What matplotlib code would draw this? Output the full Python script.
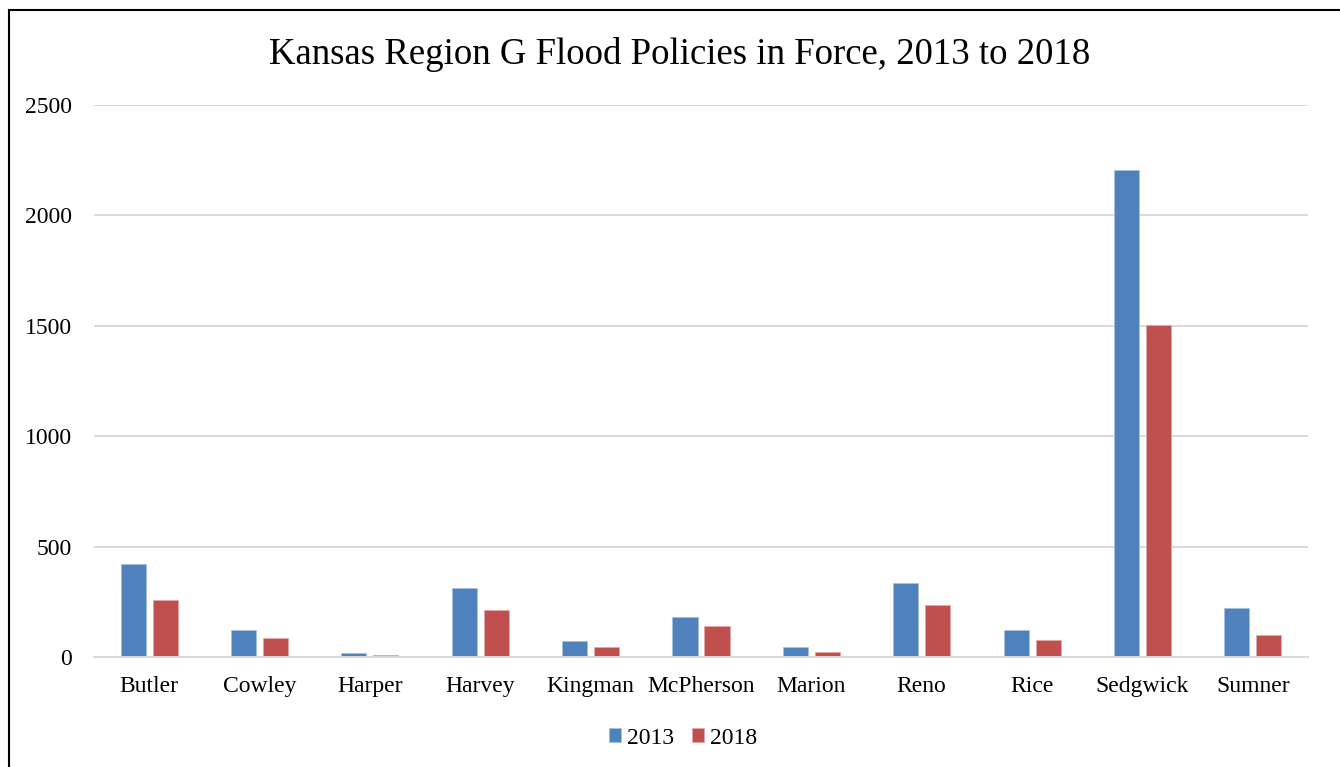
import numpy as np
import matplotlib.pyplot as plt
from matplotlib.patches import Rectangle

counties = ["Butler", "Cowley", "Harper", "Harvey", "Kingman", "McPherson",
            "Marion", "Reno", "Rice", "Sedgwick", "Sumner"]
policies_2013 = [421, 124, 16, 314, 71, 180, 45, 335, 123, 2206, 221]
policies_2018 = [260, 88, 9, 214, 44, 139, 23, 236, 77, 1505, 100]

blue = "#4F81BD"
red = "#C0504D"
grid_col = "#D9D9D9"

plt.rcParams["font.family"] = ["Liberation Serif", "DejaVu Serif"]

fig = plt.figure(figsize=(13.4, 7.67), dpi=100)
ax = fig.add_axes([94 / 1340, 110 / 767, (1308 - 94) / 1340, (657 - 105) / 767])

x = np.arange(len(counties))
w = 0.227
off = 0.145
ax.bar(x - off, policies_2013, w, color=blue, edgecolor="#A7C0DE", linewidth=0.6, label="2013", zorder=3)
ax.bar(x + off, policies_2018, w, color=red, edgecolor="#E0A7A6", linewidth=0.6, label="2018", zorder=3)

ax.set_xlim(-0.5, len(counties) - 0.5)
ax.set_ylim(0, 2500)
ax.set_yticks(range(0, 2501, 500))
ax.yaxis.grid(True, color=grid_col, linewidth=1.4, zorder=0)
ax.set_xticks(x)
ax.set_xticklabels(counties)
ax.tick_params(axis="both", length=0, labelsize=17)
ax.tick_params(axis="x", pad=13.5)
ax.tick_params(axis="y", pad=16)
for s in ["top", "right", "left"]:
    ax.spines[s].set_visible(False)
ax.spines["bottom"].set_color(grid_col)
ax.spines["bottom"].set_linewidth(1.4)
ax.spines["bottom"].set_zorder(4)

fig.text(680 / 1340, 1 - 54 / 767, "Kansas Region G Flood Policies in Force, 2013 to 2018",
         ha="center", va="center", fontsize=26.5)

fig.legend(loc="center", bbox_to_anchor=(683 / 1340, 1 - 738 / 767), ncol=2, frameon=False,
           fontsize=17, handlelength=0.5, handleheight=0.5, handletextpad=0.25, columnspacing=0.75)

fig.patches.append(Rectangle((8.5 / 1340, -0.1), 1.2, (767 - 9.5) / 767 + 0.1,
                             transform=fig.transFigure, fill=False, edgecolor="black",
                             linewidth=1.5, figure=fig))

fig.savefig("out.png", dpi=100)
